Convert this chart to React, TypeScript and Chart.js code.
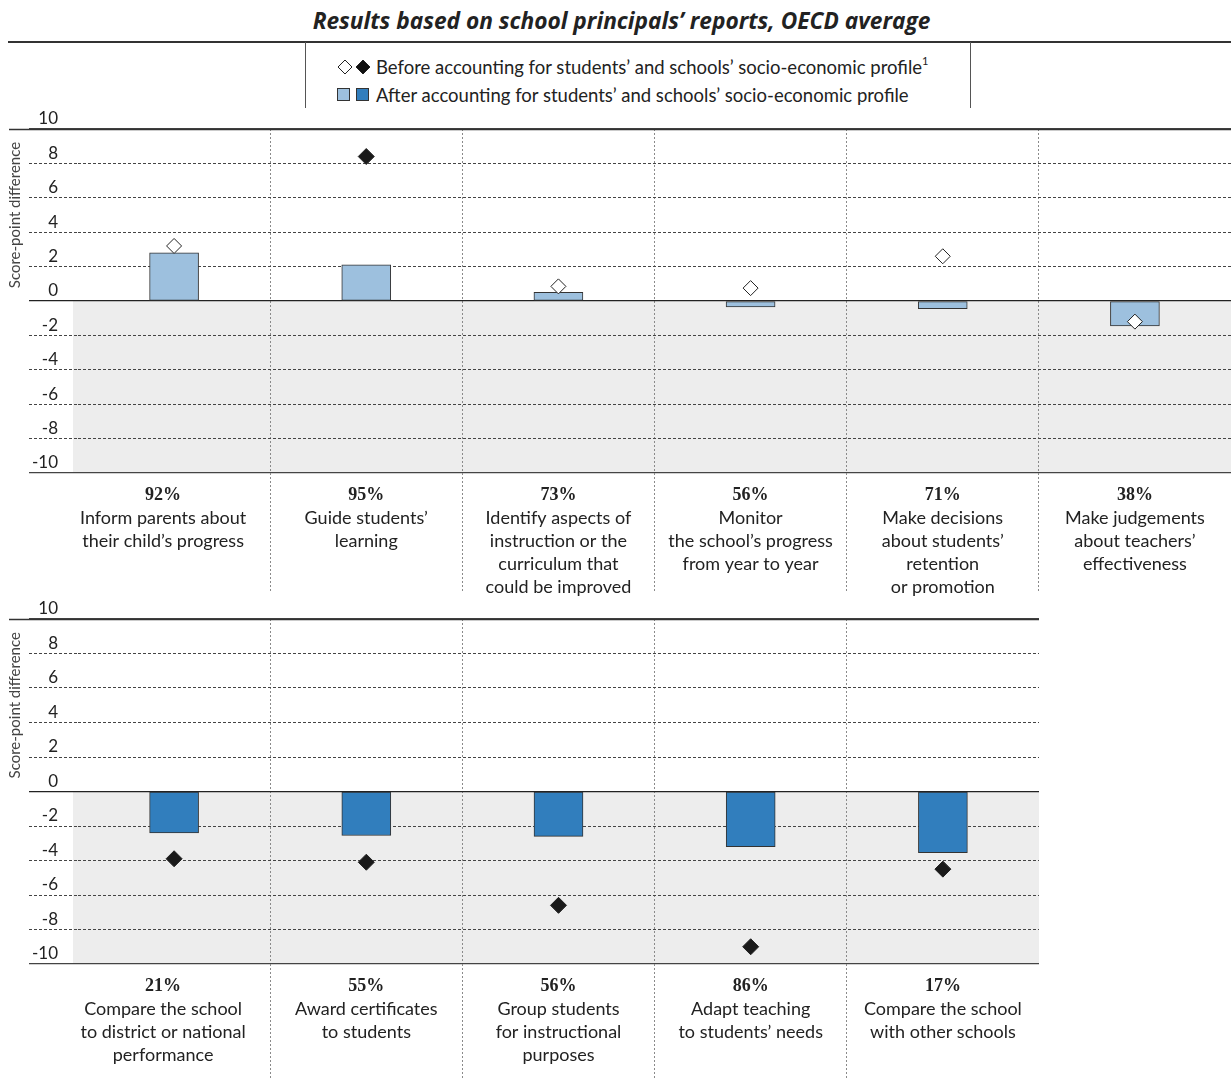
import React, { useEffect, useRef } from 'react';
import { Chart, registerables } from 'chart.js';

Chart.register(...registerables);

const yTickValues = [-10, -8, -6, -4, -2, 0, 2, 4, 6, 8, 10];

const topPercents = ['92%', '95%', '73%', '56%', '71%', '38%'];
const topCategories = [
  ['Inform parents about', 'their child’s progress'],
  ['Guide students’', 'learning'],
  ['Identify aspects of', 'instruction or the', 'curriculum that', 'could be improved'],
  ['Monitor', 'the school’s progress', 'from year to year'],
  ['Make decisions', 'about students’', 'retention', 'or promotion'],
  ['Make judgements', 'about teachers’', 'effectiveness'],
];
const topAfter = [2.8, 2.1, 0.5, -0.35, -0.45, -1.45];
const topAfterSignificant = [false, false, false, false, false, false];
const topBefore = [3.2, 8.4, 0.85, 0.75, 2.6, -1.2];
const topBeforeSignificant = [false, true, false, false, false, false];

const bottomPercents = ['21%', '55%', '56%', '86%', '17%'];
const bottomCategories = [
  ['Compare the school', 'to district or national', 'performance'],
  ['Award certificates', 'to students'],
  ['Group students', 'for instructional', 'purposes'],
  ['Adapt teaching', 'to students’ needs'],
  ['Compare the school', 'with other schools'],
];
const bottomAfter = [-2.4, -2.55, -2.6, -3.2, -3.55];
const bottomAfterSignificant = [true, true, true, true, true];
const bottomBefore = [-3.9, -4.1, -6.6, -9.0, -4.5];
const bottomBeforeSignificant = [true, true, true, true, true];

const FONT = 'Lato';
const LIGHT = '#9DC0DE';
const DARK = '#317EBD';

function isMain(v: number | undefined) {
  return v === 0 || v === 10 || v === -10;
}

type PanelProps = {
  top: number;
  height: number;
  padTop: number;
  padRight: number;
  padBottom: number;
  sepStop: number;
  percents: string[];
  categories: string[][];
  after: number[];
  afterSig: boolean[];
  before: number[];
  beforeSig: boolean[];
};

function Panel(p: PanelProps) {
  const ref = useRef<HTMLCanvasElement>(null);
  useEffect(() => {
    const canvas = ref.current!;
    const decor = {
      id: 'decor',
      beforeDraw(chart: any) {
        const { ctx, chartArea: ca, scales } = chart;
        const y = scales.y;
        const y0 = y.getPixelForValue(0);
        const yMin = y.getPixelForValue(-10);
        ctx.save();
        ctx.fillStyle = '#EDEDED';
        ctx.fillRect(ca.left - 5, y0, ca.right - ca.left + 5, yMin - y0);
        ctx.restore();
      },
      afterDraw(chart: any) {
        const { ctx, chartArea: ca, scales } = chart;
        const x = scales.x;
        const y = scales.y;
        ctx.save();
        // top line at 10 extended to the left
        const yTop = Math.round(y.getPixelForValue(10) - 0.5) + 0.5;
        ctx.strokeStyle = '#333';
        ctx.lineWidth = 1.3;
        ctx.beginPath();
        ctx.moveTo(9, yTop);
        ctx.lineTo(ca.right, yTop);
        ctx.stroke();
        // separators extended below the plot
        ctx.strokeStyle = '#8a8a8a';
        ctx.lineWidth = 1;
        ctx.setLineDash([2, 2]);
        const n = p.percents.length;
        const seps: number[] = [];
        for (let i = 1; i < n; i++) {
          const xs = (x.getPixelForValue(i - 1) + x.getPixelForValue(i)) / 2;
          seps.push(xs);
          const xa = Math.round(xs - 0.5) + 0.5;
          ctx.beginPath();
          ctx.moveTo(xa, ca.bottom);
          ctx.lineTo(xa, p.sepStop);
          ctx.stroke();
        }
        ctx.setLineDash([]);
        // category labels
        ctx.textAlign = 'center';
        ctx.textBaseline = 'middle';
        ctx.fillStyle = '#222';
        for (let i = 0; i < n; i++) {
          const cx = i === 0 ? (seps[0] + ca.left - 22) / 2 : x.getPixelForValue(i);
          ctx.font = 'bold 18px "Liberation Serif"';
          ctx.fillText(p.percents[i], cx, ca.bottom + 22);
          ctx.font = `18px ${FONT}`;
          p.categories[i].forEach((line, k) => {
            ctx.fillText(line, cx, ca.bottom + 45 + 23 * k);
          });
        }
        // y axis title
        ctx.translate(15, y.getPixelForValue(5));
        ctx.rotate(-Math.PI / 2);
        ctx.font = `15px ${FONT}`;
        ctx.fillStyle = '#444';
        ctx.fillText('Score-point difference', 0, 0);
        ctx.restore();
      },
    };

    const gridColor = (c: any) => (c.tick?.value === 0 ? '#222' : '#444');
    const gridWidth = (c: any) => (isMain(c.tick?.value) ? 1.3 : 1);
    const gridDash = (c: any) => (isMain(c.tick?.value) ? [] : [3, 2]);

    const chart = new Chart(canvas, {
      type: 'bar',
      data: {
        labels: p.percents,
        datasets: [
          {
            type: 'line',
            label: 'Before accounting',
            data: p.before,
            showLine: false,
            pointStyle: 'rectRot',
            pointRadius: p.beforeSig.map((s) => (s ? 8 : 7.5)),
            pointHoverRadius: p.beforeSig.map((s) => (s ? 8 : 7.5)),
            pointBackgroundColor: p.beforeSig.map((s) => (s ? '#1a1a1a' : '#ffffff')),
            pointBorderColor: '#222',
            pointBorderWidth: 1,
            order: 0,
          } as any,
          {
            type: 'bar',
            label: 'After accounting',
            data: p.after,
            backgroundColor: p.afterSig.map((s) => (s ? DARK : LIGHT)),
            borderColor: '#333',
            borderWidth: 1,
            borderSkipped: false,
            barThickness: 49,
            order: 1,
          } as any,
        ],
      },
      options: {
        animation: false,
        responsive: false,
        events: [],
        layout: {
          autoPadding: false,
          padding: { top: p.padTop, left: 29, right: p.padRight, bottom: p.padBottom },
        },
        plugins: { legend: { display: false }, tooltip: { enabled: false } },
        scales: {
          x: {
            type: 'category',
            offset: true,
            afterFit: (s: any) => {
              s.height = 0;
            },
            ticks: { display: false },
            border: { display: false, dash: [2, 2] },
            grid: {
              offset: true,
              drawTicks: false,
              color: (c: any) => (c.type === 'tick' && c.index > 0 ? '#8a8a8a' : 'rgba(0,0,0,0)'),
              lineWidth: 1,
            },
          },
          y: {
            type: 'linear',
            min: -10,
            max: 10,
            afterFit: (s: any) => {
              s.width = 49;
            },
            afterBuildTicks: (s: any) => {
              s.ticks = yTickValues.map((v) => ({ value: v }));
            },
            ticks: {
              padding: -29,
              labelOffset: -10,
              color: '#222',
              font: { family: FONT, size: 17 },
            },
            border: { display: false, dash: gridDash },
            grid: {
              tickLength: 49,
              color: gridColor,
              tickColor: gridColor,
              lineWidth: gridWidth,
              tickWidth: gridWidth,
              tickBorderDash: gridDash,
            },
          },
        },
      },
      plugins: [decor],
    } as any);
    return () => chart.destroy();
  }, []);
  return (
    <canvas
      ref={ref}
      width={1231}
      height={p.height}
      style={{ position: 'absolute', left: 0, top: p.top, width: 1231, height: p.height }}
    />
  );
}

function Diamond({ filled }: { filled: boolean }) {
  return (
    <svg width={16} height={16} style={{ display: 'block' }}>
      <polygon
        points="8,1 15,8 8,15 1,8"
        fill={filled ? '#111' : '#fff'}
        stroke="#222"
        strokeWidth={1}
      />
    </svg>
  );
}

function Square({ color }: { color: string }) {
  return (
    <svg width={14} height={14} style={{ display: 'block' }}>
      <rect x={0.5} y={0.5} width={12} height={12} fill={color} stroke="#333" strokeWidth={1} />
    </svg>
  );
}

export default function App() {
  return (
    <div
      style={{
        position: 'absolute',
        left: 0,
        top: 0,
        width: 1231,
        height: 1078,
        background: '#fff',
        fontFamily: FONT,
        color: '#222',
        overflow: 'hidden',
      }}
    >
      <div
        style={{
          position: 'absolute',
          left: 6,
          top: 6,
          width: 1231,
          textAlign: 'center',
          fontFamily: '"Open Sans"',
          fontWeight: 'bold',
          fontStyle: 'italic',
          fontSize: 22.7,
          lineHeight: '30px',
        }}
      >
        Results based on school principals’ reports, OECD average
      </div>
      <div style={{ position: 'absolute', left: 8, top: 41, width: 1223, height: 1.5, background: '#333' }} />
      <div style={{ position: 'absolute', left: 305, top: 42, width: 1, height: 66, background: '#555' }} />
      <div style={{ position: 'absolute', left: 970, top: 42, width: 1, height: 66, background: '#555' }} />
      <div style={{ position: 'absolute', left: 337, top: 59 }}>
        <Diamond filled={false} />
      </div>
      <div style={{ position: 'absolute', left: 355, top: 59 }}>
        <Diamond filled={true} />
      </div>
      <div style={{ position: 'absolute', left: 376, top: 54, fontSize: 18.5, lineHeight: '26px', whiteSpace: 'nowrap' }}>
        Before accounting for students’ and schools’ socio-economic profile
        <sup style={{ fontSize: 11, verticalAlign: 'top', lineHeight: '14px' }}>1</sup>
      </div>
      <div style={{ position: 'absolute', left: 337, top: 88 }}>
        <Square color={LIGHT} />
      </div>
      <div style={{ position: 'absolute', left: 356, top: 88 }}>
        <Square color={DARK} />
      </div>
      <div style={{ position: 'absolute', left: 376, top: 82, fontSize: 18.5, lineHeight: '26px', whiteSpace: 'nowrap' }}>
        After accounting for students’ and schools’ socio-economic profile
      </div>
      <Panel
        top={105}
        height={500}
        padTop={24}
        padRight={0}
        padBottom={132}
        sepStop={487}
        percents={topPercents}
        categories={topCategories}
        after={topAfter}
        afterSig={topAfterSignificant}
        before={topBefore}
        beforeSig={topBeforeSignificant}
      />
      <Panel
        top={596}
        height={482}
        padTop={23}
        padRight={192}
        padBottom={114}
        sepStop={482}
        percents={bottomPercents}
        categories={bottomCategories}
        after={bottomAfter}
        afterSig={bottomAfterSignificant}
        before={bottomBefore}
        beforeSig={bottomBeforeSignificant}
      />
    </div>
  );
}
